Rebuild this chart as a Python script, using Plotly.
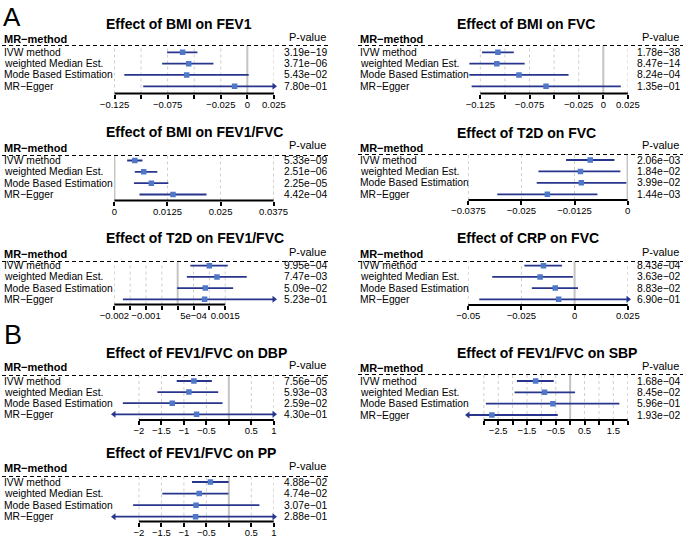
import plotly.graph_objects as go

W, H = 685, 537
FONT = "Liberation Sans, Arial, sans-serif"

methods = ["IVW method", "weighted Median Est.", "Mode Based Estimation", "MR\u2212Egger"]

titles = [
    "Effect of BMI on FEV1", "Effect of BMI on FVC",
    "Effect of BMI on FEV1/FVC", "Effect of T2D on FVC",
    "Effect of T2D on FEV1/FVC", "Effect of CRP on FVC",
    "Effect of FEV1/FVC on DBP", "Effect of FEV1/FVC on SBP",
    "Effect of FEV1/FVC on PP",
]

# estimates, lower / upper CI, p-values (rows in order of `methods`)
bmi_fev1_est = [-0.0609, -0.0552, -0.0571, -0.0120]
bmi_fev1_lo = [-0.0755, -0.0802, -0.1158, -0.0980]
bmi_fev1_hi = [-0.0470, -0.0319, 0.0013, 0.0740]
bmi_fev1_p = [3.19e-19, 3.71e-06, 5.43e-02, 7.80e-01]

bmi_fvc_est = [-0.1071, -0.1082, -0.0857, -0.0582]
bmi_fvc_lo = [-0.1233, -0.1361, -0.1361, -0.1338]
bmi_fvc_hi = [-0.0910, -0.0799, -0.0353, 0.0178]
bmi_fvc_p = [1.78e-38, 8.47e-14, 8.24e-04, 1.35e-01]

bmi_ratio_est = [0.0048, 0.0069, 0.0087, 0.0138]
bmi_ratio_lo = [0.0030, 0.0048, 0.0046, 0.0059]
bmi_ratio_hi = [0.0066, 0.0101, 0.0127, 0.0217]
bmi_ratio_p = [5.33e-09, 2.51e-06, 2.25e-05, 4.42e-04]

t2d_fvc_est = [-0.0088, -0.0111, -0.0109, -0.0189]
t2d_fvc_lo = [-0.0145, -0.0210, -0.0214, -0.0307]
t2d_fvc_hi = [-0.0031, -0.0017, -0.0003, -0.0071]
t2d_fvc_p = [2.06e-03, 1.84e-02, 3.99e-02, 1.44e-03]

t2d_ratio_est = [0.00100, 0.00124, 0.00087, 0.00085]
t2d_ratio_lo = [0.00040, 0.00029, -0.00002, -0.00173]
t2d_ratio_hi = [0.00158, 0.00218, 0.00175, 0.00343]
t2d_ratio_p = [9.95e-04, 7.47e-03, 5.09e-02, 5.23e-01]

crp_fvc_est = [-0.0146, -0.0162, -0.0091, -0.0075]
crp_fvc_lo = [-0.0236, -0.0387, -0.0201, -0.0448]
crp_fvc_hi = [-0.0059, -0.0008, 0.0016, 0.0298]
crp_fvc_p = [8.43e-04, 3.63e-02, 8.83e-02, 6.90e-01]

dbp_est = [-0.778, -0.889, -1.26, -0.718]
dbp_lo = [-1.16, -1.59, -2.36, -3.02]
dbp_hi = [-0.378, -0.237, -0.14, 1.58]
dbp_p = [7.56e-05, 5.93e-03, 2.59e-02, 4.30e-01]

sbp_est = [-1.20, -0.89, -0.60, -2.72]
sbp_lo = [-1.85, -1.93, -2.93, -5.00]
sbp_hi = [-0.57, 0.17, 1.71, -0.43]
sbp_p = [1.68e-04, 8.45e-02, 5.96e-01, 1.93e-02]

pp_est = [-0.41, -0.66, -0.73, -0.74]
pp_lo = [-0.82, -1.48, -2.13, -3.20]
pp_hi = [-0.005, -0.01, 0.68, 1.70]
pp_p = [4.88e-02, 4.74e-02, 3.07e-01, 2.88e-01]

# x ticks and their labels
ticks_bmi = [-0.125, -0.1, -0.075, -0.05, -0.025, 0, 0.025]
labels_bmi = ["\u22120.125", "", "\u22120.075", "", "\u22120.025", "0", "0.025"]
ticks_bmi_ratio = [0, 0.0125, 0.025, 0.0375]
labels_bmi_ratio = ["0", "0.0125", "0.025", "0.0375"]
ticks_t2d_fvc = [-0.0375, -0.025, -0.0125, 0]
labels_t2d_fvc = ["\u22120.0375", "\u22120.025", "\u22120.0125", "0"]
ticks_t2d_ratio = [-0.002, -0.0015, -0.001, -0.0005, 0, 0.0005, 0.001, 0.0015]
labels_t2d_ratio = ["\u22120.002", "", "\u22120.001", "", "", "5e\u221204", "", "0.0015"]
ticks_crp = [-0.05, -0.025, 0, 0.025]
labels_crp = ["\u22120.05", "\u22120.025", "0", "0.025"]
ticks_dbp = [-2, -1.5, -1, -0.5, 0, 0.5, 1]
labels_dbp = ["\u22122", "\u22121.5", "\u22121", "\u22120.5", "", "0.5", "1"]
ticks_sbp = [-3, -2.5, -2, -1.5, -1, -0.5, 0, 0.5, 1, 1.5, 2]
labels_sbp = ["", "\u22122.5", "", "\u22121.5", "", "\u22120.5", "", "0.5", "", "1.5", ""]

panels = [
    dict(est=bmi_fev1_est, lo=bmi_fev1_lo, hi=bmi_fev1_hi, p=bmi_fev1_p, tv=ticks_bmi, tt=labels_bmi,
         col=0, title_y=24, head_y=39, dash_y=45.5, r1=52.3, r4=86.3, axis_y=93.5, xr=[-0.1255, 0.0251]),
    dict(est=bmi_fvc_est, lo=bmi_fvc_lo, hi=bmi_fvc_hi, p=bmi_fvc_p, tv=ticks_bmi, tt=labels_bmi,
         col=1, title_y=24, head_y=39, dash_y=45.5, r1=52.3, r4=86.3, axis_y=93.5, xr=[-0.1375, 0.0251]),
    dict(est=bmi_ratio_est, lo=bmi_ratio_lo, hi=bmi_ratio_hi, p=bmi_ratio_p, tv=ticks_bmi_ratio, tt=labels_bmi_ratio,
         col=0, title_y=132, head_y=147.5, dash_y=155.5, r1=160.5, r4=194.5, axis_y=200.5, xr=[-0.0001, 0.0376]),
    dict(est=t2d_fvc_est, lo=t2d_fvc_lo, hi=t2d_fvc_hi, p=t2d_fvc_p, tv=ticks_t2d_fvc, tt=labels_t2d_fvc,
         col=1, title_y=133, head_y=147.5, dash_y=154.5, r1=160, r4=194.3, axis_y=200, xr=[-0.0376, 0.0001]),
    dict(est=t2d_ratio_est, lo=t2d_ratio_lo, hi=t2d_ratio_hi, p=t2d_ratio_p, tv=ticks_t2d_ratio, tt=labels_t2d_ratio,
         col=0, title_y=238.5, head_y=254, dash_y=261.5, r1=265.7, r4=299.3, axis_y=304.5, xr=[-0.00201, 0.00304]),
    dict(est=crp_fvc_est, lo=crp_fvc_lo, hi=crp_fvc_hi, p=crp_fvc_p, tv=ticks_crp, tt=labels_crp,
         col=1, title_y=238.5, head_y=254, dash_y=261.5, r1=265.7, r4=299.3, axis_y=305, xr=[-0.0501, 0.0251]),
    dict(est=dbp_est, lo=dbp_lo, hi=dbp_hi, p=dbp_p, tv=ticks_dbp, tt=labels_dbp,
         col=0, title_y=353, head_y=367, dash_y=375.5, r1=381, r4=414.3, axis_y=420, xr=[-2.556, 1.005]),
    dict(est=sbp_est, lo=sbp_lo, hi=sbp_hi, p=sbp_p, tv=ticks_sbp, tt=labels_sbp,
         col=1, title_y=353.3, head_y=368, dash_y=374.5, r1=381, r4=415, axis_y=420, xr=[-3.55, 2.01]),
    dict(est=pp_est, lo=pp_lo, hi=pp_hi, p=pp_p, tv=ticks_dbp, tt=labels_dbp,
         col=0, title_y=452.5, head_y=468, dash_y=476.5, r1=482, r4=516.7, axis_y=521.5, xr=[-2.556, 1.005]),
]

LINE_C = "#27358c"
BOX_C = "#4f78c8"
cols = [dict(x0=114, x1=274, lab=2, pv=330, tx=104),
        dict(x0=468, x1=628, lab=358, pv=683, tx=455)]

fig = go.Figure()
shapes, annots, lay = [], [], {}

def px(x):
    return x / W

def py(y):
    return 1 - y / H

for i, p in enumerate(panels):
    n = i + 1
    xa = "x" if n == 1 else f"x{n}"
    ya = "y" if n == 1 else f"y{n}"
    c = cols[p["col"]]
    sp = (p["r4"] - p["r1"]) / 3
    ybot = 4 + (p["axis_y"] - p["r4"]) / sp
    ytop = 1 - (p["r1"] - p["dash_y"]) / sp
    lo_lim, hi_lim = p["xr"]
    rows = [1, 2, 3, 4]

    lay["xaxis" if n == 1 else f"xaxis{n}"] = dict(
        domain=[px(c["x0"]), px(c["x1"])], range=p["xr"], anchor=ya,
        tickmode="array", tickvals=p["tv"], ticktext=p["tt"], tickangle=0,
        ticks="outside", ticklen=4, tickwidth=1.6, tickcolor="black", ticklabelstandoff=-2,
        showgrid=False, zeroline=False, showline=False, automargin=False,
        tickfont=dict(size=9.5, color="black", family=FONT), fixedrange=True)
    lay["yaxis" if n == 1 else f"yaxis{n}"] = dict(
        domain=[py(p["axis_y"]), py(p["dash_y"])], range=[ybot, ytop],
        anchor=xa, visible=False, automargin=False, fixedrange=True)

    # grid lines and zero line
    for t in p["tv"]:
        if t != 0:
            shapes.append(dict(type="line", xref=xa, yref=f"{ya} domain", x0=t, x1=t, y0=0, y1=1,
                               line=dict(color="#cfcfcf", width=1, dash="3px,3px"), layer="below"))
    if lo_lim <= 0 <= hi_lim:
        shapes.append(dict(type="line", xref=xa, yref=f"{ya} domain", x0=0, x1=0, y0=0, y1=1,
                           line=dict(color="#c4c4c4", width=2), layer="below"))
    # axis line between first and last tick
    shapes.append(dict(type="line", xref=xa, yref=f"{ya} domain", x0=p["tv"][0], x1=p["tv"][-1],
                       y0=0, y1=0, line=dict(color="black", width=1.8)))
    # header dashed line
    shapes.append(dict(type="line", xref="paper", yref="paper", x0=px(c["lab"]), x1=px(c["pv"]),
                       y0=py(p["dash_y"]), y1=py(p["dash_y"]),
                       line=dict(color="black", width=1.2, dash="4px,3px")))

    # confidence intervals
    lx, ly, lt_x, lt_y, rt_x, rt_y = [], [], [], [], [], []
    for r, lo, hi in zip(rows, p["lo"], p["hi"]):
        lx += [max(lo, lo_lim), min(hi, hi_lim), None]
        ly += [r, r, None]
        if lo < lo_lim:
            lt_x.append(lo_lim)
            lt_y.append(r)
        if hi > hi_lim:
            rt_x.append(hi_lim)
            rt_y.append(r)
    fig.add_trace(go.Scatter(x=lx, y=ly, mode="lines", line=dict(color=LINE_C, width=1.8),
                             xaxis=xa, yaxis=ya, showlegend=False, hoverinfo="skip"))
    fig.add_trace(go.Scatter(x=p["est"], y=rows, mode="markers",
                             marker=dict(symbol="square", size=5.5, color=BOX_C),
                             xaxis=xa, yaxis=ya, showlegend=False))
    if lt_x:
        fig.add_trace(go.Scatter(x=lt_x, y=lt_y, mode="markers", cliponaxis=False,
                                 marker=dict(symbol="triangle-left", size=6, color=LINE_C),
                                 xaxis=xa, yaxis=ya, showlegend=False, hoverinfo="skip"))
    if rt_x:
        fig.add_trace(go.Scatter(x=rt_x, y=rt_y, mode="markers", cliponaxis=False,
                                 marker=dict(symbol="triangle-right", size=6, color=LINE_C),
                                 xaxis=xa, yaxis=ya, showlegend=False, hoverinfo="skip"))

    # text
    annots.append(dict(text=f"<b>{titles[i]}</b>", x=px(c["tx"]), y=py(p["title_y"]), xanchor="left",
                       yanchor="middle", font=dict(size=14, color="black", family=FONT)))
    annots.append(dict(text="<b>MR\u2212method</b>", x=px(c["lab"]), y=py(p["head_y"]), xanchor="left",
                       yanchor="middle", font=dict(size=11, color="black", family=FONT)))
    annots.append(dict(text="P-value", x=px(c["pv"] - 2), y=py(p["head_y"] - 2), xanchor="right",
                       yanchor="middle", font=dict(size=11, color="black", family=FONT)))
    for k, r in enumerate(rows):
        yy = py(p["r1"] + (r - 1) * sp)
        annots.append(dict(text=methods[k], x=px(c["lab"]), y=yy, xanchor="left", yanchor="middle",
                           font=dict(size=10.3, color="black", family=FONT)))
        annots.append(dict(text=f"{p['p'][k]:.2e}".replace("-", "\u2212"), x=px(c["pv"]), y=yy,
                           xanchor="right", yanchor="middle",
                           font=dict(size=10.3, color="black", family=FONT)))

annots.append(dict(text="A", x=px(1), y=1, xanchor="left", yanchor="top",
                   font=dict(size=26, color="black", family=FONT)))
annots.append(dict(text="B", x=px(2), y=py(335), xanchor="left", yanchor="middle",
                   font=dict(size=27, color="black", family=FONT)))

for a in annots:
    a.update(xref="paper", yref="paper", showarrow=False)

fig.update_layout(template="none", width=W, height=H, margin=dict(l=0, r=0, t=0, b=0, pad=0),
                  paper_bgcolor="white", plot_bgcolor="white",
                  font=dict(family=FONT, color="black"),
                  shapes=shapes, annotations=annots, **lay)
fig.write_html("out.html", config={"displayModeBar": False},
               post_script="document.body.style.margin='0px';")
